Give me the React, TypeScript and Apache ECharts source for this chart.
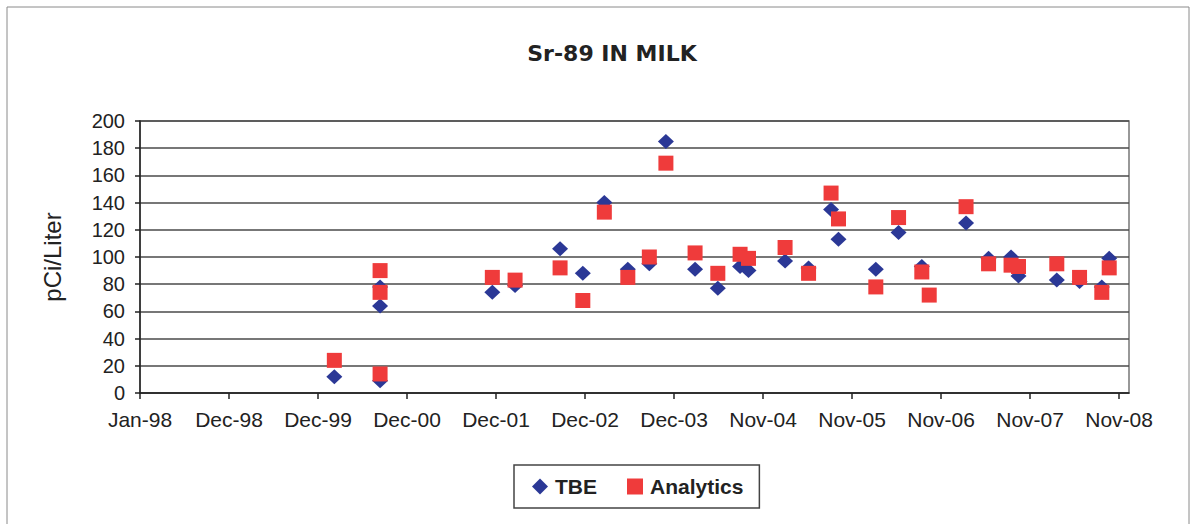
import React, { useEffect, useRef } from "react";
import * as echarts from "echarts";

const TITLE = "Sr-89 IN MILK";
const Y_NAME = "pCi/Liter";
const SERIES_NAMES = ["TBE", "Analytics"];

// Sample dates and values
const tbeDates = [
  "2000-02-26", "2000-08-29", "2000-08-29", "2000-08-29",
  "2001-11-26", "2002-02-26", "2002-08-27", "2002-11-27",
  "2003-02-22", "2003-05-28", "2003-08-23", "2003-10-29",
  "2004-02-24", "2004-05-26", "2004-08-24", "2004-09-27",
  "2005-02-22", "2005-05-28", "2005-08-27", "2005-09-26",
  "2006-02-24", "2006-05-27", "2006-08-29",
  "2007-02-24", "2007-05-26", "2007-08-25", "2007-09-24",
  "2008-02-26", "2008-05-28", "2008-08-26", "2008-09-25",
];
const tbeValues = [
  12, 64, 78, 9,
  74, 79, 106, 88,
  140, 91, 95, 185,
  91, 77, 93, 90,
  97, 92, 135, 113,
  91, 118, 93,
  125, 99, 100, 86,
  83, 82, 78, 99,
];

const analyticsDates = [
  "2000-02-26", "2000-08-29", "2000-08-29", "2000-08-29",
  "2001-11-26", "2002-02-26", "2002-08-27", "2002-11-27",
  "2003-02-22", "2003-05-28", "2003-08-23", "2003-10-29",
  "2004-02-24", "2004-05-26", "2004-08-24", "2004-09-27",
  "2005-02-22", "2005-05-28", "2005-08-27", "2005-09-26",
  "2006-02-24", "2006-05-27", "2006-08-29", "2006-09-28",
  "2007-02-24", "2007-05-26", "2007-08-25", "2007-09-24",
  "2008-02-26", "2008-05-28", "2008-08-26", "2008-09-25",
];
const analyticsValues = [
  24, 90, 74, 14,
  85, 83, 92, 68,
  133, 85, 100, 169,
  103, 88, 102, 99,
  107, 88, 147, 128,
  78, 129, 89, 72,
  137, 95, 94, 93,
  95, 85, 74, 92,
];

// X axis: days since 1998-01-01, ticks every 360 days (Jan-98 ... Nov-08)
const AXIS_START = "1998-01-01";
const TICK_STEP_DAYS = 360;
const TICK_DAYS = [0, 360, 720, 1080, 1440, 1800, 2160, 2520, 2880, 3240, 3600, 3960];
const X_MAX_DAYS = 4000;
const Y_TICKS = [0, 20, 40, 60, 80, 100, 120, 140, 160, 180, 200];

const MONTHS = ["Jan", "Feb", "Mar", "Apr", "May", "Jun", "Jul", "Aug", "Sep", "Oct", "Nov", "Dec"];
const DAY_MS = 86400000;
const startMs = Date.parse(AXIS_START + "T00:00:00Z");
const toDays = (d: string) => Math.round((Date.parse(d + "T00:00:00Z") - startMs) / DAY_MS);
const fmtDay = (v: number) => {
  const dt = new Date(startMs + v * DAY_MS);
  return MONTHS[dt.getUTCMonth()] + "-" + String(dt.getUTCFullYear() % 100).padStart(2, "0");
};

const FONT = "'Liberation Sans', Arial, sans-serif";

export default function App() {
  const ref = useRef<HTMLDivElement>(null);
  useEffect(() => {
    document.body.style.margin = "0";
    if (!ref.current) return;
    const chart = echarts.init(ref.current, null, { renderer: "svg" });
    chart.setOption({
      animation: false,
      backgroundColor: "#ffffff",
      title: {
        text: TITLE,
        left: 607,
        top: 37,
        textAlign: "center",
        textStyle: { fontFamily: "'DejaVu Sans', sans-serif", fontWeight: "bold", fontSize: 22, color: "#222" },
      },
      graphic: [
        {
          type: "rect",
          shape: { x: 7, y: 7, width: 1182, height: 540 },
          style: { fill: "none", stroke: "#8a8a8a", lineWidth: 1 },
          silent: true,
          z: -1,
        },
      ],
      legend: {
        left: 514,
        top: 465,
        orient: "horizontal",
        data: [
          { name: SERIES_NAMES[0], icon: "diamond" },
          { name: SERIES_NAMES[1], icon: "rect" },
        ],
        itemWidth: 16,
        itemHeight: 16,
        itemGap: 30,
        padding: [11, 16, 11, 18],
        borderColor: "#444",
        borderWidth: 1.5,
        textStyle: { fontFamily: FONT, fontWeight: "bold", fontSize: 21, color: "#222", padding: [0, 0, 0, 2] },
      },
      grid: {
        left: 140,
        right: 65,
        top: 121,
        bottom: 131,
        show: true,
        borderColor: "#777",
        borderWidth: 1.5,
        backgroundColor: "transparent",
      },
      xAxis: {
        type: "value",
        min: 0,
        max: X_MAX_DAYS,
        interval: TICK_STEP_DAYS,
        axisLine: { show: true, onZero: false, lineStyle: { color: "#222", width: 1.5 } },
        axisTick: { show: true, length: 6, customValues: TICK_DAYS, lineStyle: { color: "#222", width: 1.5 } },
        axisLabel: {
          customValues: TICK_DAYS,
          formatter: (v: number) => fmtDay(v),
          fontFamily: FONT,
          fontSize: 21,
          color: "#222",
          margin: 16,
        },
        splitLine: { show: false },
      },
      yAxis: {
        type: "value",
        min: Y_TICKS[0],
        max: Y_TICKS[Y_TICKS.length - 1],
        interval: 20,
        name: Y_NAME,
        nameLocation: "middle",
        nameRotate: 90,
        nameGap: 76,
        nameTextStyle: { fontFamily: FONT, fontSize: 24, color: "#222" },
        axisLine: { show: true, lineStyle: { color: "#222", width: 1.5 } },
        axisTick: { show: true, length: 5, lineStyle: { color: "#222", width: 1.5 } },
        axisLabel: { fontFamily: FONT, fontSize: 20, color: "#222", margin: 15 },
        splitLine: { show: true, lineStyle: { color: "#4a4a4a", width: 1.5 } },
      },
      series: [
        {
          name: SERIES_NAMES[0],
          type: "scatter",
          symbol: "diamond",
          symbolSize: [16, 15],
          itemStyle: { color: "#2B3896", opacity: 1 },
          data: tbeDates.map((d, i) => [toDays(d), tbeValues[i]]),
        },
        {
          name: SERIES_NAMES[1],
          type: "scatter",
          symbol: "rect",
          symbolSize: 15,
          itemStyle: { color: "#EF3B3B", opacity: 1 },
          data: analyticsDates.map((d, i) => [toDays(d), analyticsValues[i]]),
        },
      ],
    });
    return () => chart.dispose();
  }, []);
  return <div ref={ref} style={{ width: 1194, height: 524 }} />;
}
